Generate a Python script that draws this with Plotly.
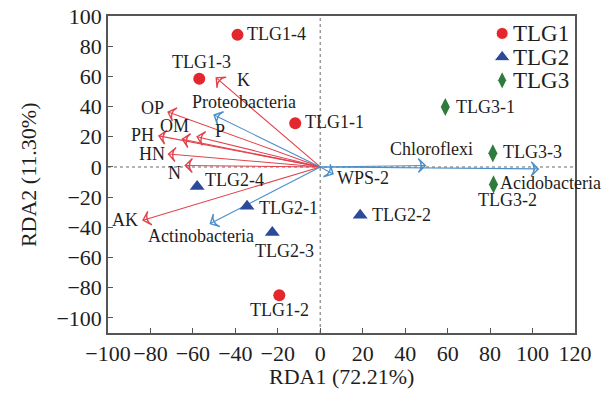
import plotly.graph_objects as go

# ---------------- data ----------------
groups = ["TLG1", "TLG2", "TLG3"]
tlg1_names = ["TLG1-1", "TLG1-2", "TLG1-3", "TLG1-4"]
tlg1_x = [-11.8, -19.3, -57.0, -39.0]
tlg1_y = [29.0, -85.0, 58.5, 87.5]
tlg2_names = ["TLG2-1", "TLG2-2", "TLG2-3", "TLG2-4"]
tlg2_x = [-34.5, 18.8, -22.6, -58.0]
tlg2_y = [-26.0, -32.0, -43.5, -13.0]
tlg3_names = ["TLG3-1", "TLG3-2", "TLG3-3"]
tlg3_x = [58.9, 81.6, 81.3]
tlg3_y = [39.7, -11.6, 9.0]

env_names = ["K", "OP", "OM", "P", "PH", "HN", "N", "AK"]
env_x = [-49.0, -71.7, -65.0, -58.0, -76.0, -71.5, -63.6, -83.5]
env_y = [59.0, 36.4, 18.4, 20.0, 20.6, 8.6, 1.0, -35.3]

bac_names = ["Proteobacteria", "Actinobacteria", "WPS-2", "Chloroflexi", "Acidobacteria"]
bac_x = [-50.0, -51.8, 6.0, 49.5, 102.7]
bac_y = [34.4, -37.5, -4.6, 1.0, -1.3]

x_ticks = [-100, -80, -60, -40, -20, 0, 20, 40, 60, 80, 100, 120]
y_ticks = [-100, -80, -60, -40, -20, 0, 20, 40, 60, 80, 100]
x_title = "RDA1 (72.21%)"
y_title = "RDA2 (11.30%)"

# ---------------- style ----------------
FONT = "Liberation Serif"
TXT = "#1e1e1e"
RED = "#e3272d"
BLUE = "#2b4a9b"
GREEN = "#2f7a3d"
RED_ARR = "#e2424c"
BLUE_ARR = "#4a8fc8"
LBL = 18
group_style = {
    "TLG1": dict(symbol="circle", size=12, color=RED, opacity=1),
    "TLG2": dict(symbol="triangle-up", size=13, color=BLUE, opacity=1),
    "TLG3": dict(symbol="diamond-tall", size=13, color=GREEN, opacity=1),
}

# label placement: (xanchor, yanchor, xshift, yshift)
sample_pos = {
    "TLG1-1": ("left", "middle", 8, 1), "TLG1-2": ("center", "middle", 0, -15),
    "TLG1-3": ("center", "middle", 2, 17), "TLG1-4": ("left", "middle", 8, 1),
    "TLG2-1": ("left", "middle", 10, -2), "TLG2-2": ("left", "middle", 10, 0),
    "TLG2-3": ("center", "middle", 12, -18), "TLG2-4": ("left", "middle", 6, 7),
    "TLG3-1": ("left", "middle", 9, 0), "TLG3-2": ("center", "middle", 14, -16),
    "TLG3-3": ("left", "middle", 8, 1),
}
arrow_pos = {
    "K": ("left", "middle", 19, -2), "OP": ("right", "middle", -2, 4),
    "OM": ("center", "middle", -8, 13), "P": ("left", "middle", 16, 6),
    "PH": ("right", "middle", -3, 1), "HN": ("right", "middle", -2, 0),
    "N": ("center", "middle", -11, -8), "AK": ("right", "middle", -3, 0),
    "Proteobacteria": ("center", "middle", 30, 13),
    "Actinobacteria": ("center", "middle", -9, -12),
    "WPS-2": ("left", "middle", 2, -4), "Chloroflexi": ("center", "middle", 6, 16),
    "Acidobacteria": ("left", "middle", -40, -14),
}
# manual legend placement in plot-area (paper) fractions
legend_marker_x = 0.844
legend_text_x = 0.862
legend_rows_y = [0.945, 0.870, 0.797]

fig = go.Figure()


def add_arrows(names, xs, ys, color):
    for n, x, y in zip(names, xs, ys):
        fig.add_trace(go.Scatter(
            x=[0, x], y=[0, y], mode="lines+markers", showlegend=False,
            hoverinfo="skip", name=n,
            line=dict(color=color, width=1.1),
            marker=dict(symbol="arrow-wide-open", size=[0, 10], angleref="previous",
                        color=color, opacity=1, line=dict(color=color, width=1.4)),
        ))


add_arrows(env_names, env_x, env_y, RED_ARR)
add_arrows(bac_names, bac_x, bac_y, BLUE_ARR)

# samples
for g, xs, ys in [("TLG1", tlg1_x, tlg1_y), ("TLG2", tlg2_x, tlg2_y), ("TLG3", tlg3_x, tlg3_y)]:
    fig.add_trace(go.Scatter(x=xs, y=ys, mode="markers", name=g, showlegend=False,
                             marker=group_style[g]))

# legend keys on an overlay axis spanning the plot area
fig.add_trace(go.Scatter(
    x=[legend_marker_x] * 3, y=legend_rows_y, mode="markers", xaxis="x2", yaxis="y2",
    showlegend=False, hoverinfo="skip",
    marker=dict(symbol=[group_style[g]["symbol"] for g in groups],
                size=[12, 14, 13], opacity=1,
                color=[group_style[g]["color"] for g in groups]),
))

annotations = []
for names, xs, ys in [(tlg1_names, tlg1_x, tlg1_y), (tlg2_names, tlg2_x, tlg2_y),
                      (tlg3_names, tlg3_x, tlg3_y)]:
    for n, x, y in zip(names, xs, ys):
        xa, ya, dx, dy = sample_pos[n]
        annotations.append(dict(x=x, y=y, text=n, showarrow=False, xanchor=xa,
                                yanchor=ya, xshift=dx, yshift=dy,
                                font=dict(family=FONT, size=LBL, color=TXT)))
for names, xs, ys in [(env_names, env_x, env_y), (bac_names, bac_x, bac_y)]:
    for n, x, y in zip(names, xs, ys):
        xa, ya, dx, dy = arrow_pos[n]
        annotations.append(dict(x=x, y=y, text=n, showarrow=False, xanchor=xa,
                                yanchor=ya, xshift=dx, yshift=dy,
                                font=dict(family=FONT, size=LBL, color=TXT)))
for g, ly in zip(groups, legend_rows_y):
    annotations.append(dict(x=legend_text_x, y=ly, xref="paper", yref="paper", text=g,
                            showarrow=False, xanchor="left", yanchor="middle",
                            font=dict(family=FONT, size=23, color=TXT)))
# axis titles
annotations.append(dict(x=0.5, y=-0.138, xref="paper", yref="paper", text=x_title,
                        showarrow=False, xanchor="center", yanchor="middle",
                        font=dict(family=FONT, size=22, color=TXT)))
annotations.append(dict(x=-0.17, y=0.5, xref="paper", yref="paper", text=y_title,
                        showarrow=False, xanchor="center", yanchor="middle", textangle=-90,
                        font=dict(family=FONT, size=22, color=TXT)))

shapes = [
    dict(type="line", xref="x", yref="paper", x0=0, x1=0, y0=0, y1=1,
         line=dict(color="#9a9a9a", width=1.5, dash="dot"), layer="below"),
    dict(type="line", xref="paper", yref="y", x0=0, x1=1, y0=0, y1=0,
         line=dict(color="#9a9a9a", width=1.5, dash="dot"), layer="below"),
]

axis_common = dict(showgrid=False, zeroline=False, showline=True, mirror=True,
                   linecolor="#555555", linewidth=1.5, ticks="inside", ticklen=5,
                   tickcolor="#555555", tickwidth=1, automargin=False,
                   ticklabeloverflow="allow",
                   tickfont=dict(family=FONT, size=22, color=TXT))

fig.update_layout(
    width=610, height=396,
    margin=dict(l=108, r=35, t=16, b=63),
    paper_bgcolor="white", plot_bgcolor="white",
    showlegend=False,
    xaxis=dict(range=[-100, 120], tickvals=x_ticks,
               ticktext=[str(v).replace("-", "\u2212") for v in x_ticks],
               **axis_common),
    yaxis=dict(range=[-110, 100], tickvals=y_ticks,
               ticktext=[str(v).replace("-", "\u2212") for v in y_ticks],
               **axis_common),
    xaxis2=dict(range=[0, 1], overlaying="x", visible=False, fixedrange=True),
    yaxis2=dict(range=[0, 1], overlaying="y", visible=False, fixedrange=True),
    annotations=annotations,
    shapes=shapes,
)

# remove the browser's default 8px page margin so the figure fills the window exactly
fig.write_html("out.html", config={"displayModeBar": False},
               post_script="document.body.style.margin='0';document.body.style.overflow='hidden';")
